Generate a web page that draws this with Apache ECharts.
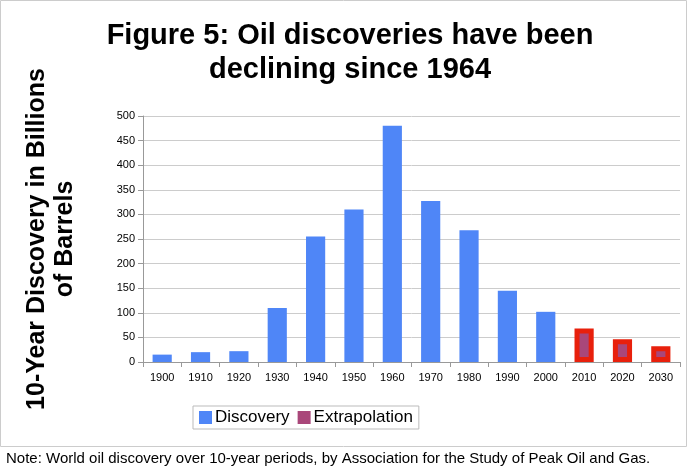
<!DOCTYPE html>
<html>
<head>
<meta charset="utf-8">
<script src="https://cdn.jsdelivr.net/npm/echarts@6/dist/echarts.min.js"></script>
<style>
body { margin: 0; background: #fff; }
#main { width: 692px; height: 473px; }
</style>
</head>
<body>
<div id="main"></div>
<script>
let decades = ['1900','1910','1920','1930','1940','1950','1960','1970','1980','1990','2000','2010','2020','2030'];
let discovery = [15, 20, 22, 110, 255, 310, 480, 327, 268, 145, 102, null, null, null];
let extrapolation = [null, null, null, null, null, null, null, null, null, null, null, 68, 46, 32];

window.onload = function() {
    let chart = echarts.init(document.getElementById('main'));
    let option = {
        animation: false,
        title: {
            text: 'Figure 5: Oil discoveries have been\ndeclining since 1964',
            left: 345,
            textAlign: 'center',
            top: 14,
            textStyle: { fontFamily: 'Liberation Sans', fontSize: 29, fontWeight: 'bold', color: '#000', lineHeight: 34 }
        },
        graphic: [
            { type: 'rect', shape: { x: 0.5, y: 0.5, width: 686, height: 446 }, style: { fill: 'none', stroke: '#ccc' } },
            { type: 'text', left: 6, top: 451, style: { text: 'Note: World oil discovery over 10-year periods, by Association for the Study of Peak Oil and Gas.', font: '15px "Liberation Sans"', fill: '#000' } }
        ],
        legend: {
            data: [{ name: 'Discovery', icon: 'rect' }, { name: 'Extrapolation', icon: 'rect', itemStyle: { borderWidth: 0 } }],
            left: 193, top: 406,
            itemWidth: 13, itemHeight: 13, itemGap: 8,
            borderColor: '#bbb', borderWidth: 1, padding: [3, 6],
            textStyle: { fontFamily: 'Liberation Sans', fontSize: 17, color: '#000', padding: [0, 0, 0, -2] }
        },
        grid: { left: 143, right: 12, top: 116, bottom: 111 },
        xAxis: {
            type: 'category',
            data: decades,
            axisTick: { show: true, lineStyle: { color: '#999' } },
            axisLine: { lineStyle: { color: '#999' } },
            axisLabel: { color: '#000', fontFamily: 'Liberation Sans', fontSize: 11, margin: 10 }
        },
        yAxis: {
            type: 'value',
            min: 0, max: 500, interval: 50,
            name: '10-Year Discovery in Billions\nof Barrels',
            nameLocation: 'middle',
            nameGap: 64,
            nameTextStyle: { fontFamily: 'Liberation Sans', fontSize: 25, fontWeight: 'bold', color: '#000', lineHeight: 28 },
            axisLine: { show: true, lineStyle: { color: '#999' } },
            axisTick: { show: true, lineStyle: { color: '#999' } },
            axisLabel: { color: '#000', fontFamily: 'Liberation Sans', fontSize: 11 },
            splitLine: { lineStyle: { color: '#ccc' } }
        },
        series: [
            {
                name: 'Discovery', type: 'bar', data: discovery,
                barWidth: '50%', barGap: '-100%',
                itemStyle: { color: '#4f86f7' }
            },
            {
                name: 'Extrapolation', type: 'bar', data: extrapolation,
                barWidth: '50%',
                itemStyle: { color: '#a9477a', borderColor: '#e8200c', borderWidth: 5 }
            }
        ]
    };
    chart.setOption(option, true);
};
</script>
</body>
</html>
